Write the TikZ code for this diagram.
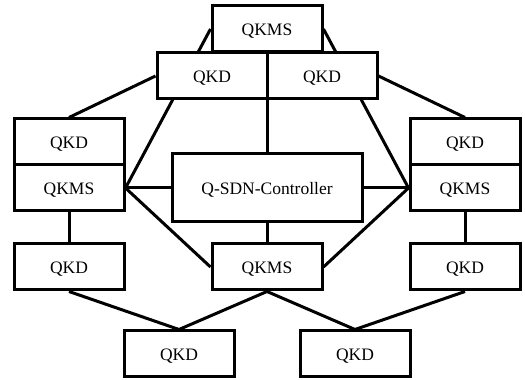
\documentclass[tikz,border=0pt]{standalone}
\usepackage{fontspec}
\setmainfont{Liberation Serif}
\usetikzlibrary{backgrounds}
\begin{document}
\begin{tikzpicture}[x=1pt,y=1pt,
  box/.style={draw=black,fill=white,line width=3pt,minimum width=110pt,minimum height=46pt,inner sep=0pt,text height=13.6pt,text depth=0pt,font=\fontsize{17.5}{20}\selectfont},
  link/.style={draw=black,line width=3pt}]
\useasboundingbox (0,0) rectangle (525,380);
\node[box] (tk) at (267,351) {QKMS};
\node[box] (tl) at (212,304) {QKD};
\node[box] (tr) at (322,304) {QKD};
\node[box] (lq) at (69,238) {QKD};
\node[box] (lk) at (69,192) {QKMS};
\node[box] (rq) at (465,238) {QKD};
\node[box] (rk) at (465,192) {QKMS};
\node[box,minimum width=190pt,minimum height=68pt] (ct) at (267,192) {Q-SDN-Controller};
\node[box] (ck) at (267,113) {QKMS};
\node[box] (bl) at (69,113) {QKD};
\node[box] (br) at (465,113) {QKD};
\node[box] (b1) at (179,26) {QKD};
\node[box] (b2) at (355,26) {QKD};
\begin{scope}[on background layer]
\draw[link] (tk.west) -- (lk.east);
\draw[link] (tk.east) -- (rk.west);
\draw[link] (tl.west) -- (lq.north);
\draw[link] (tr.east) -- (rq.north);
\draw[link] (ct.north |- tl.south) -- (ct.north);
\draw[link] (ct.west) -- (lk.east);
\draw[link] (ct.east) -- (rk.west);
\draw[link] (lk.east) -- (ck.west);
\draw[link] (rk.west) -- (ck.east);
\draw[link] (ck.north) -- (ct.south);
\draw[link] (lk.south) -- (bl.north);
\draw[link] (rk.south) -- (br.north);
\draw[link] (bl.south) -- (b1.north);
\draw[link] (ck.south) -- (b1.north);
\draw[link] (ck.south) -- (b2.north);
\draw[link] (br.south) -- (b2.north);
\end{scope}
\end{tikzpicture}
\end{document}
